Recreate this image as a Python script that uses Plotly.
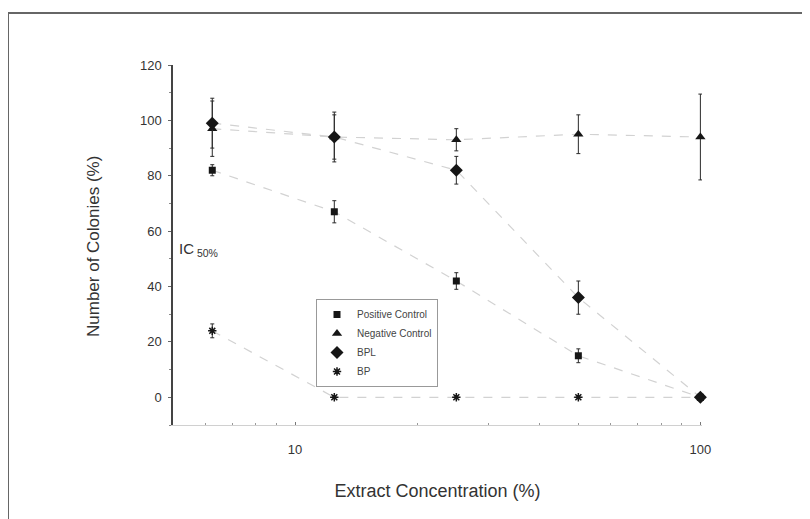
import math
import plotly.graph_objects as go

# ---- data ----
conc = [6.25, 12.5, 25, 50, 100]

pos_ctrl = [82, 67, 42, 15, 0]
pos_err = [2, 4, 3, 2.5, 0]

neg_ctrl = [97, 94, 93, 95, 94]
neg_err = [10, 9, 4, 7, 15.5]

bpl = [99, 94, 82, 36, 0]
bpl_err = [9, 8, 5, 6, 0]

bp = [24, 0, 0, 0, 0]
bp_err = [2.5, 0, 0, 0, 0]

series_names = ["Positive Control", "Negative Control", "BPL", "BP"]
y_ticks = [0, 20, 40, 60, 80, 100, 120]
x_ticks = [10, 100]
x_minor = [5, 6, 7, 8, 9, 20, 30, 40, 50, 60, 70, 80, 90]

FONT = "Liberation Sans, Arial, sans-serif"
MK = "#161616"
LN = "#d2d2d2"

fig = go.Figure()

styles = [
    (pos_ctrl, pos_err, dict(symbol="square", size=7)),
    (neg_ctrl, neg_err, dict(symbol="triangle-up", size=9)),
    (bpl, bpl_err, dict(symbol="diamond", size=10)),
    (bp, bp_err, dict(symbol="asterisk-open", size=7, line=dict(width=1.5, color=MK))),
]

# faint dashed connecting lines (not in legend)
for name, (vals, errs, mk) in zip(series_names, styles):
    fig.add_trace(go.Scatter(
        x=conc, y=vals, name=name, mode="lines", showlegend=False,
        line=dict(color=LN, width=1.2, dash="dash"), hoverinfo="skip",
    ))

# markers with error bars (legend shows markers only)
for name, (vals, errs, mk) in zip(series_names, styles):
    fig.add_trace(go.Scatter(
        x=conc, y=vals, name=name, mode="markers",
        marker=dict(color=MK, **mk),
        error_y=dict(type="data", array=errs, visible=True,
                     color="#2a2a2a", thickness=1, width=2),
        cliponaxis=False,
    ))

# page coordinates of the plot area: x 173..702, y 65..425
# (the page body has an 8 px margin, so the figure itself starts at 8,8)
OFF = 8
PL, PR, PT, PB = 173, 702, 65, 425
W, H = 810 - OFF, 519 - OFF

def px(xp):
    return (xp - PL) / (PR - PL)

def py(yp):
    return (PB - yp) / (PB - PT)

fig.update_layout(
    width=W, height=H,
    margin=dict(l=PL - OFF, r=W - (PR - OFF), t=PT - OFF, b=H - (PB - OFF)),
    paper_bgcolor="white", plot_bgcolor="white",
    font=dict(family=FONT, color="#333"),
    showlegend=True,
    legend=dict(
        x=px(316), y=py(299), xanchor="left", yanchor="top",
        bgcolor="rgba(255,255,255,0)", bordercolor="#999", borderwidth=1,
        font=dict(size=10, color="#444", family=FONT),
        itemwidth=30, tracegroupgap=0,
    ),
    xaxis=dict(
        type="log",
        range=[math.log10(5), math.log10(100) + 0.004],
        showgrid=False, zeroline=False,
        showline=True, linecolor="#d0d0d0", linewidth=1,
        tickvals=x_ticks, ticktext=[str(v) for v in x_ticks],
        ticks="inside", ticklen=3, tickcolor="#777",
        tickfont=dict(size=13, color="#333"),
        ticklabelstandoff=12,
        minor=dict(tickvals=x_minor, ticks="inside", ticklen=2, tickcolor="#999"),
        title=dict(text="Extract Concentration (%)", font=dict(size=18, color="#333"),
                   standoff=28),
        automargin=False,
    ),
    yaxis=dict(
        range=[-10, 120],
        showgrid=False, zeroline=False,
        showline=True, linecolor="#444", linewidth=1.5,
        tickvals=y_ticks,
        ticks="outside", ticklen=3, tickcolor="#666",
        tickfont=dict(size=13, color="#333"),
        ticklabelstandoff=4,
        minor=dict(dtick=10, ticks="outside", ticklen=2, tickcolor="#888"),
        automargin=False,
    ),
    annotations=[
        dict(text="Number of Colonies (%)", textangle=-90, showarrow=False,
             xref="paper", yref="paper", x=px(93), y=py(247),
             xanchor="center", yanchor="middle",
             font=dict(size=17, color="#333", family=FONT)),
        dict(text="IC<sub> 50%</sub>", showarrow=False,
             xref="paper", yref="paper", x=px(177), y=py(250),
             xanchor="left", yanchor="middle",
             font=dict(size=15, color="#333", family=FONT)),
    ],
    shapes=[
        dict(type="rect", xref="paper", yref="paper",
             x0=px(8), x1=px(840), y0=py(560), y1=py(13),
             line=dict(color="#666", width=2), layer="below"),
    ],
)

fig.write_html("out.html")
